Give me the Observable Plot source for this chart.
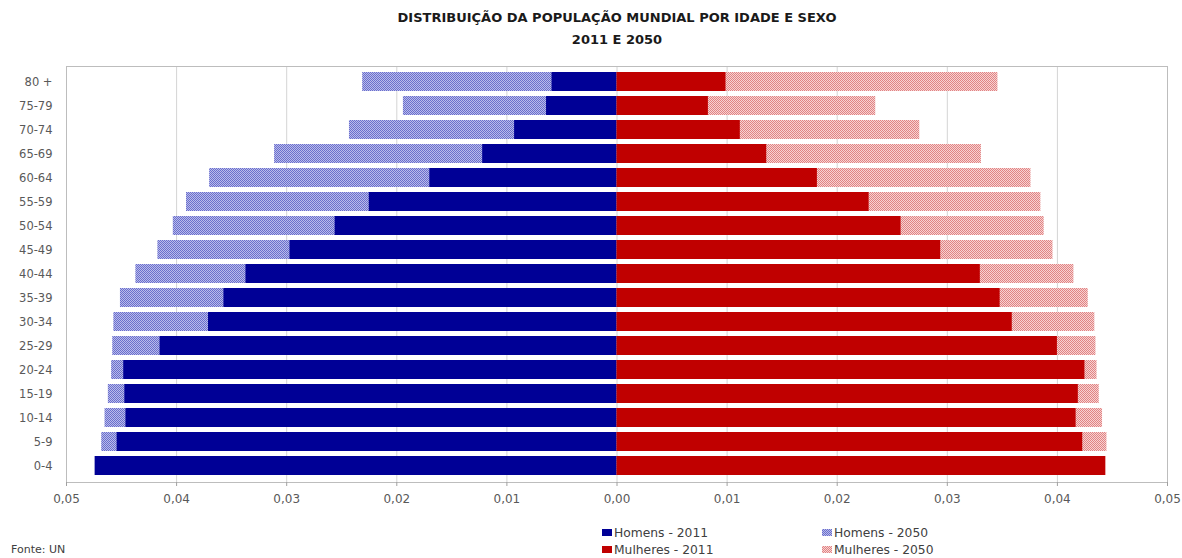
<!DOCTYPE html>
<html><head><meta charset="utf-8">
<script src="https://cdn.jsdelivr.net/npm/d3@7"></script>
<script src="https://cdn.jsdelivr.net/npm/@observablehq/plot@0.6"></script>
<style>
body{margin:0;background:#fff;overflow:hidden;width:1182px;height:558px;position:relative;font-family:"DejaVu Sans",sans-serif;}
#title{position:absolute;left:117px;top:7px;width:1000px;text-align:center;font-weight:bold;font-size:13px;line-height:22px;color:#1a1a1a;}
#chart{position:absolute;left:0;top:62px;}
.leg{position:absolute;font-size:12.3px;color:#404040;line-height:14px;white-space:nowrap;}
.sw{position:absolute;width:10px;height:7px;}
#fonte{position:absolute;left:11px;top:543px;font-size:11px;line-height:13px;color:#404040;}
</style></head>
<body>
<div id="title">DISTRIBUIÇÃO DA POPULAÇÃO MUNDIAL POR IDADE E SEXO<br>2011 E 2050</div>
<div id="chart"></div>
<div id="legend"></div>
<div id="fonte">Fonte: UN</div>
<script>
const ages = ["80 +","75-79","70-74","65-69","60-64","55-59","50-54","45-49","40-44","35-39","30-34","25-29","20-24","15-19","10-14","5-9","0-4"];
const men2011 =   [0.0059,0.0064,0.0093,0.0122,0.0170,0.0225,0.0256,0.0297,0.0337,0.0357,0.0371,0.0415,0.0448,0.0447,0.0446,0.0454,0.0474];
const men2050 =   [0.0231,0.0194,0.0243,0.0311,0.0370,0.0391,0.0403,0.0417,0.0437,0.0451,0.0457,0.0458,0.0459,0.0462,0.0465,0.0468,0.0466];
const women2011 = [0.0099,0.0083,0.0112,0.0136,0.0182,0.0229,0.0258,0.0294,0.0330,0.0348,0.0359,0.0400,0.0425,0.0419,0.0417,0.0423,0.0444];
const women2050 = [0.0346,0.0235,0.0275,0.0331,0.0376,0.0385,0.0388,0.0396,0.0415,0.0428,0.0434,0.0435,0.0436,0.0438,0.0441,0.0445,0.0443];
const seriesNames = ["Homens - 2011","Mulheres - 2011","Homens - 2050","Mulheres - 2050"];
const xTicks = [-0.05,-0.04,-0.03,-0.02,-0.01,0,0.01,0.02,0.03,0.04,0.05];

const rows = (arr, sign) => ages.map((a,i)=>({age:a, value: sign*arr[i]}));
const m11 = rows(men2011,-1), m50 = rows(men2050,-1), w11 = rows(women2011,1), w50 = rows(women2050,1);
const fmt = d => Math.abs(d).toFixed(2).replace(".",",");

const svg = Plot.plot({
  width:1182, height:448,
  marginTop:4, marginBottom:28, marginLeft:66, marginRight:15,
  style:{fontFamily:"DejaVu Sans", fontSize:"11px", color:"#595959", background:"transparent"},
  x:{domain:[-0.05,0.05]},
  y:{domain:ages, paddingInner:0.19, paddingOuter:0.08},
  marks:[
    Plot.gridX(xTicks,{stroke:"#d4d4d4", strokeOpacity:1}),
    Plot.barX(m50,{x1:d=>0, x2:"value", y:"age", fill:"url(#hb)"}),
    Plot.barX(w50,{x1:d=>0, x2:"value", y:"age", fill:"url(#hr)"}),
    Plot.barX(m11,{x1:d=>0, x2:"value", y:"age", fill:"#000096"}),
    Plot.barX(w11,{x1:d=>0, x2:"value", y:"age", fill:"#c00000"}),
    Plot.frame({stroke:"#bdbdbd"}),
    Plot.axisX({ticks:xTicks, tickFormat:fmt, tickSize:4, tickPadding:8, stroke:"#a0a0a0", fill:"#595959", label:null, fontSize:12}),
    Plot.axisY({tickSize:0, tickPadding:14, label:null, fill:"#595959", fontSize:11.5})
  ]
});
const defs = d3.select(svg).insert("defs",":first-child");
function pat(id,bg,fg){
  const p = defs.append("pattern").attr("id",id).attr("patternUnits","userSpaceOnUse").attr("width",2).attr("height",2);
  p.append("rect").attr("width",2).attr("height",2).attr("fill",bg);
  p.append("rect").attr("x",0).attr("y",0).attr("width",1).attr("height",1).attr("fill",fg);
  p.append("rect").attr("x",1).attr("y",1).attr("width",1).attr("height",1).attr("fill",fg);
}
pat("hb","#b9bbeb","#6a6fcc");
pat("hr","#f8d2d2","#e08484");
document.getElementById("chart").appendChild(svg);

const legendItems = [
  {name:seriesNames[0], x:602, y:526, bg:"#000096"},
  {name:seriesNames[1], x:602, y:543, bg:"#c00000"},
  {name:seriesNames[2], x:822, y:526, bg:"repeating-conic-gradient(#6a6fcc 0 25%, #b9bbeb 0 50%) 0 0/2px 2px"},
  {name:seriesNames[3], x:822, y:543, bg:"repeating-conic-gradient(#e08484 0 25%, #f8d2d2 0 50%) 0 0/2px 2px"}
];
const leg = document.getElementById("legend");
legendItems.forEach(it=>{
  const s = document.createElement("div"); s.className="sw";
  s.style.left = it.x+"px"; s.style.top = (it.y+3)+"px"; s.style.background = it.bg;
  leg.appendChild(s);
  const t = document.createElement("div"); t.className="leg";
  t.style.left = (it.x+12)+"px"; t.style.top = it.y+"px"; t.textContent = it.name;
  leg.appendChild(t);
});
</script>
</body></html>
